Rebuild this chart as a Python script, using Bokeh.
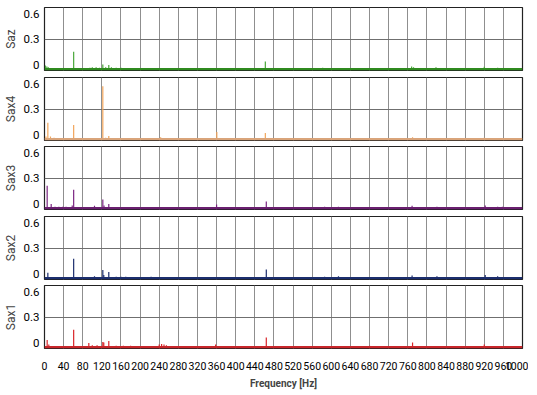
from bokeh.plotting import figure
from bokeh.layouts import column
from bokeh.models import Range1d, LinearAxis, FixedTicker, Grid, Span
from bokeh.embed import file_html
from bokeh.resources import INLINE

# ---- data ----
names = ["Saz", "Sax4", "Sax3", "Sax2", "Sax1"]
colors = ["#4aa83a", "#f2a55a", "#7b2682", "#1c2e6e", "#d9262a"]
floor_colors = ["#2f8a1f", "#d9a47a", "#6a1f70", "#1c2e6e", "#c8262a"]

saz_f = [2, 5, 8, 20, 35, 61, 95, 100, 108, 115, 122, 128, 134.5, 140, 150, 160, 175, 190, 205, 225, 245,
         300, 345, 380, 462, 582, 590, 615, 690, 746, 768, 772, 819, 920, 948]
saz_a = [0.04, 0.03, 0.02, 0.01, 0.01, 0.18, 0.015, 0.02, 0.02, 0.015, 0.05, 0.02, 0.045, 0.02, 0.015,
         0.015, 0.012, 0.012, 0.01, 0.01, 0.01, 0.008, 0.008, 0.008, 0.08, 0.015, 0.012, 0.012, 0.01,
         0.01, 0.03, 0.02, 0.02, 0.025, 0.015]

sax4_f = [3, 7, 12.5, 20, 40, 61, 95, 122, 128, 134.5, 175, 243, 300, 360.5, 462, 586, 615, 690, 770, 820, 920, 950]
sax4_a = [0.03, 0.17, 0.03, 0.015, 0.01, 0.145, 0.01, 0.54, 0.015, 0.035, 0.01, 0.02, 0.01, 0.075, 0.065,
          0.01, 0.01, 0.008, 0.02, 0.01, 0.015, 0.01]

sax3_f = [5.6, 14, 22, 30, 38, 45, 58, 61, 104.6, 122, 124.5, 134.5, 160, 223, 240, 247, 300, 360, 464,
          561, 586, 615, 690, 769, 821, 922, 948, 958]
sax3_a = [0.23, 0.045, 0.015, 0.015, 0.015, 0.015, 0.03, 0.19, 0.025, 0.09, 0.03, 0.045, 0.01, 0.012,
          0.01, 0.012, 0.01, 0.04, 0.07, 0.012, 0.015, 0.015, 0.01, 0.025, 0.015, 0.03, 0.015, 0.015]

sax2_f = [7, 30, 61, 104.6, 122, 124, 134.5, 150, 160, 170, 180, 185, 223, 247, 300, 360, 464,
          586, 615, 690, 769, 821, 922, 948]
sax2_a = [0.057, 0.01, 0.2, 0.02, 0.085, 0.035, 0.065, 0.015, 0.015, 0.015, 0.012, 0.012, 0.015, 0.01,
          0.01, 0.01, 0.09, 0.015, 0.02, 0.01, 0.03, 0.02, 0.035, 0.02]

sax1_f = [5.6, 9, 30, 61, 92.7, 100, 110, 122, 124, 134.5, 150, 165, 180, 200, 240, 245, 250, 255, 300,
          358, 464, 520, 600, 640, 680, 770, 840, 920]
sax1_a = [0.075, 0.03, 0.01, 0.18, 0.045, 0.02, 0.02, 0.055, 0.05, 0.065, 0.015, 0.015, 0.015, 0.012,
          0.03, 0.035, 0.03, 0.02, 0.012, 0.03, 0.1, 0.012, 0.012, 0.012, 0.015, 0.05, 0.01, 0.03]

series_f = [saz_f, sax4_f, sax3_f, sax2_f, sax1_f]
series_a = [saz_a, sax4_a, sax3_a, sax2_a, sax1_a]

x_ticks = list(range(0, 1001, 40))
y_ticks = [0, 0.3, 0.6]

FONT = "Roboto"

figs = []
for i, name in enumerate(names):
    last = i == len(names) - 1
    bottom_border = 38 if last else (6 if i % 2 == 0 else 5)
    top_border = 7 if i == 0 else 1
    p = figure(frame_width=478, frame_height=63,
               x_range=Range1d(0, 1000), y_range=Range1d(-0.012, 0.63),
               output_backend="svg", toolbar_location=None,
               min_border_left=37, min_border_right=6,
               min_border_top=top_border, min_border_bottom=bottom_border,
               x_axis_location="below" if last else None, y_axis_location=None)
    p.extra_y_ranges = {"lab": Range1d(-0.06, 0.67)}
    yax = LinearAxis(y_range_name="lab", ticker=FixedTicker(ticks=y_ticks),
                     axis_label=name)
    yax.axis_line_color = None
    yax.major_tick_line_color = None
    yax.minor_tick_line_color = None
    yax.major_tick_out = 0
    yax.major_tick_in = 0
    yax.major_label_text_font = FONT
    yax.major_label_text_font_size = "11.5px"
    yax.major_label_text_color = "#000000"
    yax.major_label_standoff = 5
    yax.axis_label_text_font = FONT
    yax.axis_label_text_font_size = "12px"
    yax.axis_label_text_font_style = "normal"
    yax.axis_label_standoff = 3
    p.add_layout(yax, "left")

    p.xgrid.ticker = FixedTicker(ticks=x_ticks)
    p.xgrid.grid_line_color = "#8f8f8f"
    p.xgrid.grid_line_width = 1
    p.ygrid.visible = False
    hg = Grid(dimension=1, y_range_name="lab", ticker=FixedTicker(ticks=[0.3]),
              grid_line_color="#6f6f6f", grid_line_width=1)
    p.add_layout(hg)

    p.outline_line_color = "#222222"
    p.outline_line_width = 1.2
    p.background_fill_color = "white"
    p.border_fill_color = "white"

    p.add_layout(Span(location=0, dimension="width", line_color=floor_colors[i], line_width=2.6))
    f = series_f[i]
    a = series_a[i]
    p.segment(x0=f, y0=[0] * len(f), x1=f, y1=a, line_color=colors[i], line_width=1.2)

    if last:
        xax = p.xaxis[0]
        xax.ticker = FixedTicker(ticks=x_ticks)
        xax.axis_line_color = None
        xax.major_tick_line_color = None
        xax.minor_tick_line_color = None
        xax.major_tick_out = 0
        xax.major_tick_in = 0
        xax.major_label_standoff = 13
        xax.major_label_text_font = FONT
        xax.major_label_text_font_size = "10.5px"
        xax.major_label_text_color = "#000000"
        xax.axis_label = "Frequency [Hz]"
        xax.axis_label_text_font = FONT
        xax.axis_label_text_font_size = "10px"
        xax.axis_label_text_font_style = "bold"
        xax.axis_label_standoff = 5
    figs.append(p)

layout = column(*figs, spacing=0)
open("out.html", "w").write(file_html(layout, INLINE))
